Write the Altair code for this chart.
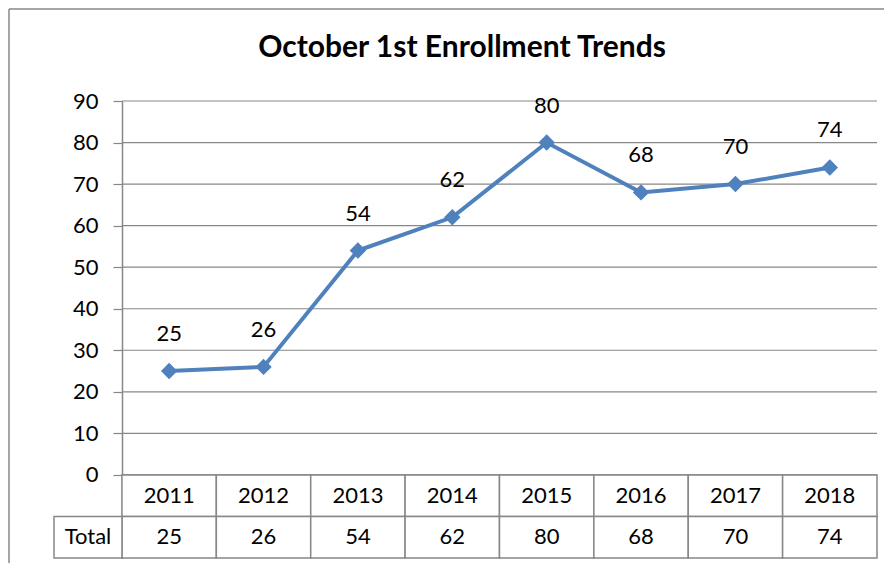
import altair as alt
import pandas as pd

years = ["2011", "2012", "2013", "2014", "2015", "2016", "2017", "2018"]
totals = [25, 26, 54, 62, 80, 68, 70, 74]
y_ticks = [0, 10, 20, 30, 40, 50, 60, 70, 80, 90]
row_label = "Total"
title_text = "October 1st Enrollment Trends"

BLUE = "#4F81BD"
GRAY = "#878787"
FONT = "Lato"
FS = 22

n = len(years)
LABEL_COL = 0.72          # width of the "Total" label column, in column units
ROW = 10                  # table row height, in y units (one gridline step)

# main series (columns centred at i + 0.5)
df = pd.DataFrame({
    "Year": years,
    "Total": totals,
    "Pos": [i + 0.5 for i in range(n)],
})

# data table cells: header row (years) and value row (totals)
cells = []
for i, (yv, tv) in enumerate(zip(years, totals)):
    cells.append({"x0": i, "x1": i + 1, "y0": -ROW, "y1": 0, "xc": i + 0.5, "yc": -ROW / 2, "Label": yv})
    cells.append({"x0": i, "x1": i + 1, "y0": -2 * ROW, "y1": -ROW, "xc": i + 0.5, "yc": -1.5 * ROW, "Label": str(tv)})
cells.append({"x0": -LABEL_COL, "x1": 0, "y0": -2 * ROW, "y1": -ROW,
              "xc": -LABEL_COL / 2, "yc": -1.5 * ROW, "Label": row_label})
cells_df = pd.DataFrame(cells)

grid_df = pd.DataFrame({"v": y_ticks, "x0": [0] * len(y_ticks), "x1": [n] * len(y_ticks)})

xs = alt.Scale(domain=[-LABEL_COL, n], nice=False, zero=False)
ys = alt.Scale(domain=[-2 * ROW, 90], nice=False, zero=False)

W = 823
H = 457

yaxis = alt.Axis(
    values=y_ticks, grid=False, offset=-68,
    domainColor=GRAY, domainWidth=1.5, tickColor=GRAY, tickSize=9, tickWidth=1.2,
    labelPadding=15, labelFontSize=FS, labelFont=FONT, labelColor="black", title=None,
)

grid = alt.Chart(grid_df).mark_rule(color=GRAY, strokeWidth=1.2).encode(
    x=alt.X("x0:Q", scale=xs, axis=None), x2="x1:Q",
    y=alt.Y("v:Q", scale=ys, axis=yaxis),
)

rects = alt.Chart(cells_df).mark_rect(fill="white", stroke=GRAY, strokeWidth=1.5).encode(
    x=alt.X("x0:Q", scale=xs, axis=None), x2="x1:Q",
    y=alt.Y("y0:Q", scale=ys, axis=yaxis), y2="y1:Q",
)
cell_text = alt.Chart(cells_df).mark_text(fontSize=FS, font=FONT, color="black", baseline="middle").encode(
    x=alt.X("xc:Q", scale=xs, axis=None), y=alt.Y("yc:Q", scale=ys, axis=yaxis), text="Label:N"
)

base = alt.Chart(df).encode(
    x=alt.X("Pos:Q", scale=xs, axis=None),
    y=alt.Y("Total:Q", scale=ys, axis=yaxis),
)
line = base.mark_line(color=BLUE, strokeWidth=4)
pts = base.mark_point(shape="diamond", filled=True, size=270, color=BLUE, opacity=1)
labels = base.mark_text(dy=-37, fontSize=FS, font=FONT, color="black", baseline="middle").encode(
    text="Total:Q"
)

# chart title and the chart-area border (decorations)
dummy = pd.DataFrame({"t": [title_text]})
title = alt.Chart(dummy).mark_text(
    fontSize=30, font=FONT, fontWeight="bold", color="black", baseline="middle", align="center"
).encode(x=alt.value(408), y=alt.value(-53), text="t:N")
border_top = alt.Chart(dummy).mark_rule(color=GRAY, strokeWidth=1.5).encode(
    x=alt.value(-45), x2=alt.value(830), y=alt.value(-92)
)
border_left = alt.Chart(dummy).mark_rule(color=GRAY, strokeWidth=1.5).encode(
    x=alt.value(-45), y=alt.value(-92), y2=alt.value(H + 6)
)

chart = (
    alt.layer(grid, rects, cell_text, line, pts, labels, border_top, border_left, title)
    .properties(width=W, height=H, background="white",
                padding={"left": 0, "top": 0, "right": 0, "bottom": 0})
    .configure_view(stroke=None, strokeWidth=0)
)

chart.save("out.html", embed_options={"renderer": "svg", "actions": False})
